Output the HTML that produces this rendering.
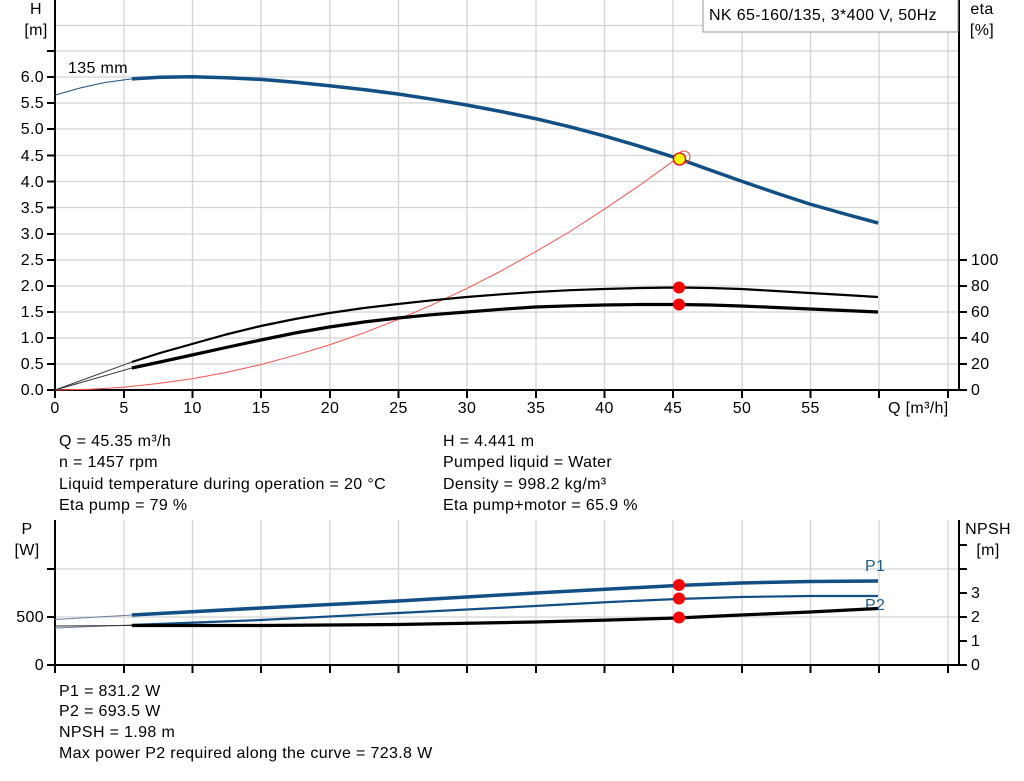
<!DOCTYPE html>
<html><head><meta charset="utf-8"><style>
body{margin:0;background:#fff;}
svg{display:block;font-family:"Liberation Sans",Arial,sans-serif;}
text{fill:#000;font-size:16px;letter-spacing:0.35px;}
</style></head><body>
<svg width="1024" height="781" viewBox="0 0 1024 781" xmlns="http://www.w3.org/2000/svg">
<g stroke="#d4d4d4" stroke-width="1.3" fill="none">
<path d="M124,0V390M192.5,0V390M261,0V390M330,0V390M398.5,0V390M467,0V390M536,0V390M604.5,0V390M673,0V390M742,0V390M810.5,0V390M879,0V390M948,0V390"/>
<path d="M55,364H959M55,338H959M55,312H959M55,286H959M55,260H959M55,234H959M55,207.5H959M55,181.5H959M55,155.5H959M55,129H959M55,103H959M55,77H959M55,51H959M55,25.5H959"/>
<path d="M124,520V665M192.5,520V665M261,520V665M330,520V665M398.5,520V665M467,520V665M536,520V665M604.5,520V665M673,520V665M742,520V665M810.5,520V665M879,520V665M948,520V665"/>
<path d="M55,617H959M55,569H959"/>
</g>
<g stroke="#000" stroke-width="2" fill="none">
<path d="M55,0V391M47,390H959M959,0V391"/>
<path d="M47,364H55M47,338H55M47,312H55M47,286H55M47,260H55M47,234H55M47,207.5H55M47,181.5H55M47,155.5H55M47,129H55M47,103H55M47,77H55M47,51H55"/>
<path d="M55,390v8M124,390v8M192.5,390v8M261,390v8M330,390v8M398.5,390v8M467,390v8M536,390v8M604.5,390v8M673,390v8M742,390v8M810.5,390v8M879,390v8M948,390v8"/>
<path d="M959,390h8M959,364h8M959,338h8M959,312h8M959,286h8M959,260h8"/>
<path d="M55,520V666M47,665H959M959,520V666"/>
<path d="M47,617H55M47,569H55"/>
<path d="M55,665v8M124,665v8M192.5,665v8M261,665v8M330,665v8M398.5,665v8M467,665v8M536,665v8M604.5,665v8M673,665v8M742,665v8M810.5,665v8M879,665v8M948,665v8"/>
<path d="M959,665h8M959,641h8M959,617h8M959,593h8M959,569h8M959,545h8"/>
</g>
<rect x="703" y="-1" width="255" height="33" fill="#fff" stroke="#999" stroke-width="1"/>
<text x="709" y="20">NK 65-160/135, 3*400 V, 50Hz</text>
<text x="36" y="14" text-anchor="middle">H</text>
<text x="36" y="35" text-anchor="middle">[m]</text>
<text x="982" y="14" text-anchor="middle">eta</text>
<text x="982" y="35" text-anchor="middle">[%]</text>
<g text-anchor="end">
<text x="44" y="395">0.0</text><text x="44" y="369">0.5</text><text x="44" y="343">1.0</text><text x="44" y="317">1.5</text><text x="44" y="291">2.0</text><text x="44" y="265">2.5</text><text x="44" y="239">3.0</text><text x="44" y="213">3.5</text><text x="44" y="187">4.0</text><text x="44" y="161">4.5</text><text x="44" y="134">5.0</text><text x="44" y="108">5.5</text><text x="44" y="82">6.0</text>
</g>
<g text-anchor="start">
<text x="971" y="395">0</text><text x="971" y="369">20</text><text x="971" y="343">40</text><text x="971" y="317">60</text><text x="971" y="291">80</text><text x="971" y="265">100</text>
</g>
<g text-anchor="middle">
<text x="55" y="413">0</text><text x="124" y="413">5</text><text x="192.5" y="413">10</text><text x="261" y="413">15</text><text x="330" y="413">20</text><text x="398.5" y="413">25</text><text x="467" y="413">30</text><text x="536" y="413">35</text><text x="604.5" y="413">40</text><text x="673" y="413">45</text><text x="742" y="413">50</text><text x="810.5" y="413">55</text>
</g>
<text x="888" y="413">Q [m³/h]</text>
<text x="68" y="73">135 mm</text>
<polyline fill="none" stroke="#1f4e7a" stroke-width="1" points="55,95.1 80,88 105,82.5 131.8,78.9"/>
<polyline fill="none" stroke="#124f85" stroke-width="3.5" stroke-linejoin="round" points="131.8,78.9 160,77.3 192.2,76.8 226,77.8 260.8,79.4 295,82.2 329.4,85.7 364,89.6 398,94 432,99.2 466.6,105 501,111.5 535.2,118.6 570,126.8 603.8,135.8 640,146.4 677.2,158.2 710,170 741,181 776,193 809.6,204 845,214 878.2,223"/>
<polyline fill="none" stroke="#ff5050" stroke-width="1" points="55,390 90,389.3 123.6,387.2 158,383.5 192.2,378.7 226,372.5 260.8,364.6 295,355.3 329.4,344.9 364,332.8 398,319.5 432,304.8 466.6,288.6 501,271 535.2,251.9 570,231.5 603.8,209.6 640,185 677.2,158.2"/>
<polyline fill="none" stroke="#333" stroke-width="1" points="55,390 131.8,362"/>
<polyline fill="none" stroke="#333" stroke-width="1" points="55,390 131.8,368"/>
<polyline fill="none" stroke="#000" stroke-width="2.2" stroke-linejoin="round" points="131.8,362 160,353 192,344 226,334.5 260.8,326 295,319 329.4,313 364,308 398,304 432,300.3 466.6,297 501,294.3 535.2,292 570,290.2 603.8,289 640,288 677,287.5 710,288 741,289 776,291 809.6,293 845,295 878,297"/>
<polyline fill="none" stroke="#000" stroke-width="3.2" stroke-linejoin="round" points="131.8,368 160,362 192,355 226,347.5 260.8,340 295,333 329.4,327 364,322 398,318 432,314.7 466.6,312 501,309.3 535.2,307 570,305.8 603.8,305 640,304.5 677,304.5 710,305 741,306 776,307.5 809.6,309 845,310.5 878,312"/>
<circle cx="679" cy="287.5" r="6" fill="#f00"/>
<circle cx="679" cy="304.5" r="6" fill="#f00"/>
<circle cx="684" cy="157" r="6" fill="none" stroke="#f33" stroke-width="1"/>
<circle cx="679.5" cy="159" r="6" fill="#ff0" stroke="#e00" stroke-width="1.3"/>
<text x="59" y="446">Q = 45.35 m³/h</text>
<text x="59" y="467">n = 1457 rpm</text>
<text x="59" y="489">Liquid temperature during operation = 20 °C</text>
<text x="59" y="510">Eta pump = 79 %</text>
<text x="443" y="446">H = 4.441 m</text>
<text x="443" y="467">Pumped liquid = Water</text>
<text x="443" y="489">Density = 998.2 kg/m³</text>
<text x="443" y="510">Eta pump+motor = 65.9 %</text>
<text x="27" y="534" text-anchor="middle">P</text>
<text x="27" y="555" text-anchor="middle">[W]</text>
<text x="988" y="534" text-anchor="middle">NPSH</text>
<text x="988" y="555" text-anchor="middle">[m]</text>
<text x="44" y="622" text-anchor="end">500</text>
<text x="44" y="670" text-anchor="end">0</text>
<text x="971" y="670">0</text><text x="971" y="646">1</text><text x="971" y="622">2</text><text x="971" y="598">3</text>
<text x="865" y="571" style="fill:#1f5a8a">P1</text>
<text x="865" y="610" style="fill:#1f5a8a">P2</text>
<polyline fill="none" stroke="#6a7f99" stroke-width="1" points="55,619.5 131.8,615"/>
<polyline fill="none" stroke="#6a7f99" stroke-width="1" points="55,628 131.8,625"/>
<polyline fill="none" stroke="#333" stroke-width="1" points="55,626 131.8,625.5"/>
<polyline fill="none" stroke="#124f85" stroke-width="3.5" stroke-linejoin="round" points="131.8,615 260.8,608 398,601 535.2,593 610,589 677,585.5 741,583 810,581.5 878,581"/>
<polyline fill="none" stroke="#124f85" stroke-width="2.2" stroke-linejoin="round" points="131.8,625 260.8,620 398,613 535.2,606 610,602 677,599 741,597 810,596 878,596"/>
<polyline fill="none" stroke="#000" stroke-width="3.2" stroke-linejoin="round" points="131.8,625.5 260.8,625.5 398,624.5 535.2,622 610,620 677,618 741,615 810,612 878,608.5"/>
<circle cx="679" cy="585" r="6" fill="#f00"/>
<circle cx="679" cy="598.5" r="6" fill="#f00"/>
<circle cx="679" cy="617.5" r="6" fill="#f00"/>
<text x="59" y="696">P1 = 831.2 W</text>
<text x="59" y="716">P2 = 693.5 W</text>
<text x="59" y="737">NPSH = 1.98 m</text>
<text x="59" y="758">Max power P2 required along the curve = 723.8 W</text>
</svg>
</body></html>
